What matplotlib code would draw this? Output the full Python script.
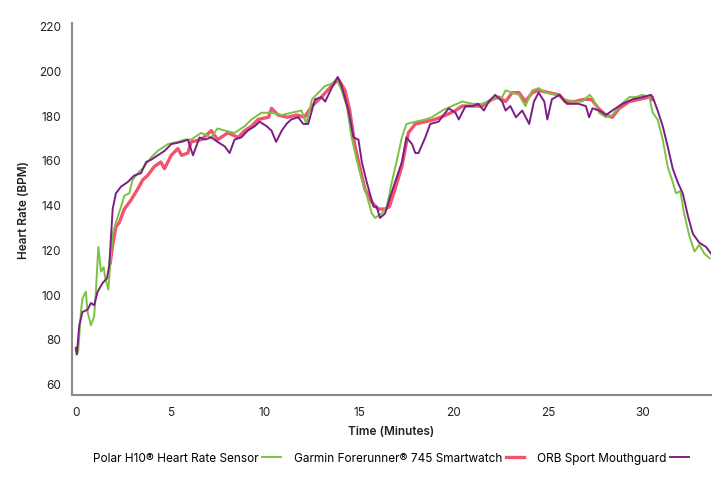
import matplotlib
matplotlib.use("Agg")
from matplotlib import pyplot as plt

# === DATA ===
polar_t = [0, 0.12, 0.27, 0.35, 0.53, 0.62, 0.8, 0.97, 1.06, 1.19,
           1.33, 1.47, 1.56, 1.72, 1.82, 1.95, 2.12, 2.39, 2.57, 2.83,
           3.0, 3.28, 3.63, 3.98, 4.34, 4.87, 5.4, 5.75, 6.1, 6.64,
           7.17, 7.5, 7.9, 8.4, 8.94, 9.3, 9.82, 10.36, 10.9, 11.4,
           11.95, 12.2, 12.5, 12.84, 13.19, 13.54, 13.8, 14.07, 14.34, 14.6,
           14.87, 15.14, 15.4, 15.67, 15.84, 16.2, 16.46, 16.73, 17.0, 17.26,
           17.5, 17.97, 18.5, 18.85, 19.4, 19.9, 20.45, 21.0, 21.5, 22.04,
           22.57, 22.75, 23.1, 23.46, 23.8, 24.16, 24.5, 24.87, 25.4, 25.9,
           26.3, 26.8, 27.2, 27.4, 27.7, 28.06, 28.4, 28.77, 29.3, 29.65,
           30.0, 30.36, 30.54, 30.8, 31.07, 31.33, 31.6, 31.77, 32.0, 32.2,
           32.48, 32.75, 33.0, 33.28, 33.55]
polar_bpm = [75, 74, 92, 98, 101, 92, 86, 90, 101, 121,
             110, 112, 107, 102, 113, 127, 132, 139, 144, 145,
             151, 154, 157, 161, 164, 167, 168, 169, 169, 172,
             170, 174, 173, 172, 175, 178, 181, 181, 180, 181,
             182, 176, 187, 190, 193, 194, 196, 191, 184, 170,
             160, 151, 144, 136, 134, 136, 139, 150, 160, 170,
             176, 177, 178, 179, 182, 184, 186, 185, 185, 187,
             188, 191, 190, 189, 184, 191, 192, 190, 189, 187,
             186, 186, 189, 187, 181, 179, 180, 184, 188, 188,
             189, 188, 181, 178, 169, 157, 150, 145, 146, 136,
             126, 119, 122, 118, 116]

garmin_t = [1.82, 1.95, 2.12, 2.3, 2.57, 2.92, 3.28, 3.54, 3.8, 4.16,
            4.5, 4.69, 5.05, 5.4, 5.6, 5.93, 6.1, 6.64, 7.17, 7.5,
            8.05, 8.6, 8.94, 9.3, 9.65, 10.2, 10.36, 10.7, 11.2, 11.7,
            12.1, 12.5, 13.0, 13.54, 13.9, 14.25, 14.5, 14.78, 15.05, 15.3,
            15.67, 16.0, 16.37, 16.6, 16.9, 17.26, 17.6, 17.97, 18.5, 19.0,
            19.6, 20.1, 20.45, 21.0, 21.5, 22.04, 22.4, 22.75, 23.1, 23.46,
            23.8, 24.16, 24.5, 25.04, 25.6, 25.9, 26.4, 26.9, 27.3, 27.66,
            28.06, 28.4, 28.77, 29.3, 29.83, 30.36, 30.5]
garmin_bpm = [114, 122, 130, 132, 138, 142, 147, 151, 153, 157,
              159, 156, 162, 165, 162, 163, 168, 169, 173, 169,
              172, 170, 173, 175, 178, 179, 183, 180, 179, 180,
              179, 184, 188, 193, 196, 191, 182, 166, 156, 147,
              141, 138, 138, 139, 147, 157, 172, 176, 177, 178,
              180, 182, 184, 184, 184, 187, 188, 186, 190, 190,
              186, 190, 191, 190, 189, 186, 186, 187, 187, 183,
              180, 179, 183, 186, 187, 188, 187]

orb_t = [0, 0.05, 0.18, 0.35, 0.62, 0.8, 0.97, 1.15, 1.42, 1.65,
         1.77, 1.95, 2.12, 2.39, 2.74, 3.1, 3.45, 3.72, 3.98, 4.34,
         4.7, 5.05, 5.6, 5.93, 6.2, 6.55, 6.82, 7.17, 7.5, 7.88,
         8.14, 8.4, 8.76, 9.1, 9.47, 9.73, 10.1, 10.36, 10.6, 10.9,
         11.15, 11.4, 11.77, 12.04, 12.3, 12.66, 13.0, 13.2, 13.54, 13.86,
         14.07, 14.43, 14.7, 14.96, 15.14, 15.4, 15.76, 15.93, 16.1, 16.37,
         16.55, 16.9, 17.26, 17.5, 17.8, 17.97, 18.14, 18.5, 18.76, 19.2,
         19.74, 20.1, 20.27, 20.63, 21.0, 21.3, 21.6, 21.86, 22.2, 22.57,
         22.75, 23.0, 23.3, 23.63, 24.0, 24.25, 24.5, 24.8, 24.96, 25.2,
         25.6, 26.0, 26.6, 27.0, 27.17, 27.35, 27.7, 28.06, 28.4, 28.94,
         29.47, 30.0, 30.45, 30.54, 30.8, 31.07, 31.33, 31.6, 31.86, 32.13,
         32.4, 32.66, 33.0, 33.37, 33.63]
orb_bpm = [76, 73, 86, 92, 93, 96, 95, 101, 105, 107,
           113, 138, 145, 148, 150, 153, 154, 159, 160, 162,
           164, 167, 168, 169, 162, 170, 169, 170, 168, 166,
           163, 169, 170, 173, 175, 177, 175, 173, 168, 173,
           176, 178, 179, 176, 176, 187, 188, 186, 192, 197,
           193, 182, 170, 169, 159, 150, 139, 139, 134, 136,
           141, 150, 159, 170, 167, 163, 163, 170, 176, 177,
           183, 181, 178, 184, 184, 185, 182, 186, 189, 186,
           182, 184, 179, 182, 176, 186, 190, 186, 178, 187,
           189, 185, 185, 184, 179, 183, 182, 180, 182, 185,
           187, 188, 189, 188, 182, 175, 166, 156, 150, 145,
           135, 127, 123, 121, 118]

x_ticks = [0, 5, 10, 15, 20, 25, 30]
y_ticks = [60, 80, 100, 120, 140, 160, 180, 200, 220]

# === PLOTTING ===
plt.rcParams['font.family'] = ['Inter', 'DejaVu Sans']

fig = plt.figure(figsize=(7.28, 4.85), dpi=100)
ax = fig.add_axes([0.099, 0.184, 0.877, 0.766])

ax.plot(garmin_t, garmin_bpm, color='#f2546f', lw=2.4, label='Garmin Forerunner\u00ae 745 Smartwatch', zorder=2)
ax.plot(polar_t, polar_bpm, color='#7cc242', lw=1.4, label='Polar H10\u00ae Heart Rate Sensor', zorder=3)
ax.plot(orb_t, orb_bpm, color='#7b1f84', lw=1.4, label='ORB Sport Mouthguard', zorder=4)

ax.set_xlim(-0.2, 33.6)
ax.set_ylim(55, 221)
ax.set_xticks(x_ticks)
ax.set_yticks(y_ticks)
ax.tick_params(length=0, labelsize=8.5, colors='#222222', pad=8)

for side in ['top', 'right']:
    ax.spines[side].set_visible(False)
for side in ['left', 'bottom']:
    ax.spines[side].set_color('#8a8a8a')
    ax.spines[side].set_linewidth(1.5)

ax.set_xlabel('Time (Minutes)', fontsize=8.5, fontweight='semibold', color='#222222', labelpad=5)
ax.set_ylabel('Heart Rate (BPM)', fontsize=8.5, fontweight='semibold', color='#222222', labelpad=6)

handles, labels = ax.get_legend_handles_labels()
order = [1, 0, 2]
fig.legend([handles[i] for i in order], [labels[i] for i in order],
           loc='center', bbox_to_anchor=(0.537, 0.054), ncol=3, frameon=False,
           markerfirst=False, fontsize=8.5, handlelength=1.6, handletextpad=0.3,
           columnspacing=1.1)

fig.savefig('out.png', dpi=100)
